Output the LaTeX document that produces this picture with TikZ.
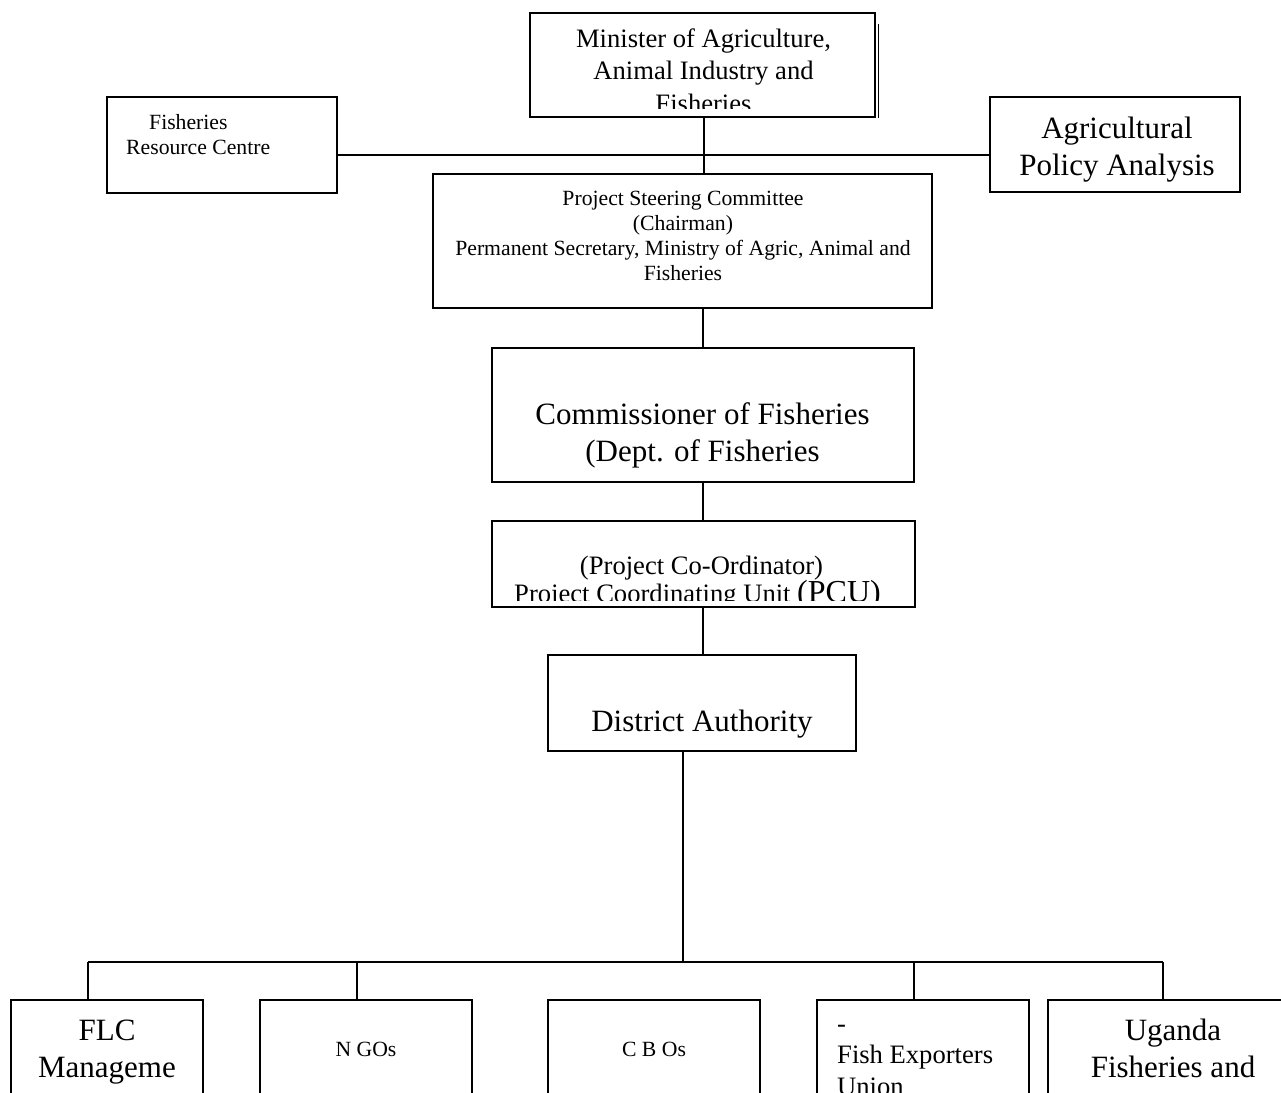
\documentclass[tikz,border=0pt]{standalone}
\usepackage{fontspec}
\setmainfont{Liberation Serif}
\usetikzlibrary{calc}
\begin{document}
\begin{tikzpicture}[x=1pt,y=-1pt,
  box/.style={draw, line width=1.7pt, rectangle, inner sep=0pt},
  link/.style={line width=1.7pt},
  txt/.style={inner sep=0pt, anchor=base},
  txtl/.style={inner sep=0pt, anchor=base west},
  small/.style={font=\fontsize{21.7}{25}\selectfont},
  mid/.style={font=\fontsize{26.6}{31}\selectfont},
  big/.style={font=\fontsize{31}{36}\selectfont}]
\useasboundingbox (0,0) rectangle (1281,1092);
\fill[white] (0,0) rectangle (1281,1092);
\clip (0,0) rectangle (1281,1092);

% boxes
\node[box, minimum width=345pt, minimum height=104pt] (min)  at (702.5,65) {};
\node[box, minimum width=230pt, minimum height=96pt]  (frc)  at (222,145) {};
\node[box, minimum width=250pt, minimum height=95pt]  (apa)  at (1115,144.5) {};
\node[box, minimum width=499pt, minimum height=134pt] (psc)  at (682.5,241) {};
\node[box, minimum width=422pt, minimum height=134pt] (com)  at (703,415) {};
\node[box, minimum width=423pt, minimum height=86pt]  (pcu)  at (703.5,564) {};
\node[box, minimum width=308pt, minimum height=96pt]  (dist) at (702,703) {};
\node[box, minimum width=192pt, minimum height=120pt] (flc)  at (107,1060) {};
\node[box, minimum width=212pt, minimum height=120pt] (ngo)  at (366,1060) {};
\node[box, minimum width=212pt, minimum height=120pt] (cbo)  at (654,1060) {};
\node[box, minimum width=212pt, minimum height=120pt] (fish) at (923,1060) {};
\node[box, minimum width=252pt, minimum height=120pt] (uga)  at (1174,1060) {};

% shadow edge of the minister box
\draw[line width=1.2pt] ($(min.north east)+(3,12)$) -- ($(min.south east)+(3,0)$);

% connector coordinates
\coordinate (hl) at (0,155);
\coordinate (v1) at (704,0);
\coordinate (v2) at (703,0);
\coordinate (trk) at (683,962);
\coordinate (d1) at (88,962);
\coordinate (d2) at (357,962);
\coordinate (d3) at (914,962);
\coordinate (d4) at (1163,962);

\draw[link] (frc.east |- hl) -- (apa.west |- hl);
\draw[link] (min.south -| v1) -- (psc.north -| v1);
\draw[link] (psc.south -| v2) -- (com.north -| v2);
\draw[link] (com.south -| v2) -- (pcu.north -| v2);
\draw[link] (pcu.south -| v2) -- (dist.north -| v2);
\draw[link] (dist.south -| trk) -- (trk);
\draw[link] (d1) -- (d4);
\draw[link] (d1) -- (flc.north -| d1);
\draw[link] (d2) -- (ngo.north -| d2);
\draw[link] (d3) -- (fish.north -| d3);
\draw[link] (d4) -- (uga.north -| d4);

% texts
\begin{scope}
\clip (min.north west) rectangle ([yshift=9pt]min.south east);
\node[txt, mid] (t1) at (703.5,47) {Minister of Agriculture,};
\node[txt, mid] (t2) at (703.5,79.5) {Animal Industry and};
\node[txt, mid] (t3) at (703.5,112) {Fisheries};
\end{scope}

\node[txtl, small] (t4) at (149,129) {Fisheries};
\node[txtl, small] (t5) at (126,154) {Resource Centre};

\node[txt, big] (t6) at (1117,138) {Agricultural};
\node[txt, big] (t7) at (1117,175) {Policy Analysis};

\node[txt, small] (t8)  at (683,205) {Project Steering Committee};
\node[txt, small] (t9)  at (683,230) {(Chairman)};
\node[txt, small] (t10) at (683,255) {Permanent Secretary, Ministry of Agric, Animal and};
\node[txt, small] (t11) at (683,280) {Fisheries};

\node[txt, big] (t12) at (702.5,424) {Commissioner of Fisheries};
\node[txt, big] (t13) at (702.5,461) {(Dept. of Fisheries};

\begin{scope}
\clip (pcu.north west) rectangle ([yshift=7pt]pcu.south east);
\node[txt, mid] (t14) at (701.5,574) {(Project Co-Ordinator)};
\node[txt] (t15) at (697.5,602) {\fontsize{26.6}{31}\selectfont Project Coordinating Unit \fontsize{32}{37}\selectfont(PCU)};
\end{scope}

\node[txt, big] (t16) at (702,731) {District Authority};

\node[txt, big] (t17) at (107,1040) {FLC};
\node[txt, big] (t18) at (107,1077) {Manageme};
\node[txt, small] (t19) at (366,1056) {N GOs};
\node[txt, small] (t20) at (654,1056) {C B Os};
\node[txtl, mid] (t21) at (837,1032) {-};
\node[txtl, mid] (t22) at (837,1063) {Fish Exporters};
\node[txtl, mid] (t23) at (837,1095) {Union};
\node[txt, big] (t24) at (1173,1040) {Uganda};
\node[txt, big] (t25) at (1173,1077) {Fisheries and};
\end{tikzpicture}
\end{document}
